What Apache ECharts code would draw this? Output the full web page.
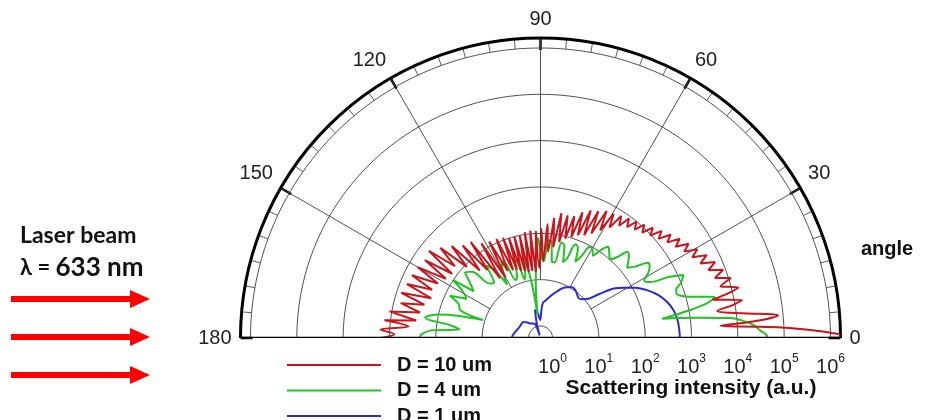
<!DOCTYPE html>
<html><head><meta charset="utf-8">
<script src="https://cdn.jsdelivr.net/npm/echarts@6/dist/echarts.min.js"></script>
<style>html,body{margin:0;padding:0;background:#fff}#chart{width:926px;height:420px}</style>
</head><body><div id="chart"></div>
<script>
// ---- data (radius values are log10 of scattering intensity, angles in degrees) ----
const angleTicks = [0, 30, 60, 90, 120, 150, 180];
const decadeExps = [0, 1, 2, 3, 4, 5, 6];
const radiusMin = -0.259;
const radiusMax = 6.216;
const seriesNames = ['D = 10 um', 'D = 4 um', 'D = 1 um'];

const redAngle = [0,0.5,1,1.5,2,2.5,3,3.8,4.6,5.5,6.3,7.5,8.7,9.7,10.7,11.6,12.5,13.4,14.3,15.2,16,17.5,19,20.5,22,23.5,25,26.5,28,29.5,31,32.5,34,35.5,37,38.5,40,41.5,43,44.5,46,47.5,49,50.5,52,53.5,55,56.5,58,59.5,61,62.5,64,65.5,67,68.5,70,71.5,73,74.5,76,77.5,79,80.5,82,83.5,85,86.5,88,89.5,91,92.5,94,95.5,97,98.5,100,101.5,103,104.5,106,107.5,109,110.5,112,114,116,118,120,122,124,126,128,130,132,134,136,138,140,142,144,146,148,150,152,154,156,158,160,162,164,166,168,170,172,173.5,175,177,178.5,180];
const redLogI = [6.20,6.22,6.02,5.70,5.35,4.95,4.40,3.63,4.50,4.89,4.50,3.90,3.60,3.95,4.17,3.85,3.55,3.90,4.15,3.95,3.78,4.05,3.72,3.95,3.65,3.85,3.55,3.75,3.45,3.63,3.36,3.53,3.26,3.43,3.17,3.33,3.07,3.23,2.98,3.14,2.90,3.06,2.84,3.00,2.78,2.95,2.70,2.90,2.55,2.85,2.40,2.83,2.25,2.75,2.15,2.70,2.10,2.60,2.02,2.47,1.95,2.45,1.85,2.47,1.72,2.35,1.60,2.20,1.40,2.10,1.25,2.05,1.17,2.07,1.20,2.05,1.19,2.00,1.22,2.00,1.25,2.00,1.30,2.05,1.32,2.08,1.35,2.10,1.25,2.15,1.30,2.30,1.60,2.35,1.70,2.50,1.95,2.65,2.15,2.80,2.10,2.75,2.15,2.80,2.25,2.83,2.30,2.85,2.25,2.90,2.35,2.85,2.40,3.05,2.45,3.13,2.60,3.20,2.90,3.20];

const greenAngle = [0,1,2,3,4,5,6,7.5,9,10.6,12,13.2,14.5,16,18,19.6,21.5,23.8,25.5,27,29,31,33,35,37,39,41,43,44.8,46.5,48.5,51,53.5,55.5,57.5,59.5,61.5,63.5,65.5,67.5,69.5,71.5,73.5,75.5,77.5,79.5,81.5,83.5,85.5,87.5,89.5,91.5,93,95,97,99,101,103,105,107,109,111,113,115,117,119.6,122,124,127,130,133,136,139,142,145,146.5,149,152,155,157.5,160.8,162.6,165,167,170,172,174,176,178,180];
const greenLogI = [4.65,4.60,4.48,4.40,4.28,4.10,3.86,3.10,2.40,3.03,3.45,3.61,3.30,3.00,2.83,2.85,3.00,3.11,2.80,2.40,2.30,2.45,2.55,2.57,2.30,2.15,2.25,2.35,2.38,2.15,2.00,2.10,2.19,2.05,1.85,1.95,1.98,1.70,1.55,1.85,1.90,1.55,1.45,1.80,1.85,1.40,1.40,1.85,1.85,1.40,1.50,1.90,1.60,0.90,0.25,0.90,1.50,1.20,1.05,1.45,1.55,1.15,1.10,1.50,1.60,1.38,1.10,1.50,1.70,1.30,1.35,1.80,1.90,1.67,1.50,2.01,1.70,1.55,1.90,1.65,1.58,1.04,1.60,2.00,2.27,1.70,1.50,2.10,2.30,2.35];

const blueAngle = [0,4,8,12,16,20,24,28,31,34,37,40,43,46,50,54,58,62,66,70,74,78,82,86,88,91,94,98,101,104,107,110,114,120,126,132,138,146,156,166,174,180];
const blueLogI = [2.75,2.74,2.72,2.67,2.58,2.45,2.27,2.05,1.85,1.65,1.30,1.05,0.97,0.93,0.97,1.02,1.03,0.98,0.92,0.82,0.73,0.64,0.56,0.50,0.35,0.13,0.20,0.33,0.36,0.10,-0.20,0.05,0.08,0.10,0.13,0.20,0.25,0.25,0.26,0.30,0.34,0.36];

const seriesColors = ['#c8161d', '#22c322', '#2a2ad8'];

// ---- build ----
const zip = (r, a) => r.map((v, i) => [v, a[i]]);
const circleAngles = [];
for (let a = 0; a <= 180; a += 1) circleAngles.push(a);

const series = [];
decadeExps.forEach(k => {
  series.push({
    type: 'line', coordinateSystem: 'polar', silent: true, clip: false, z: 1,
    data: circleAngles.map(a => [k, a]), symbol: 'none', showSymbol: false,
    lineStyle: { color: '#3c3c3c', width: 0.9 }, animation: false
  });
});
angleTicks.filter(a => a > 0 && a < 180).forEach(a => {
  series.push({
    type: 'line', coordinateSystem: 'polar', silent: true, clip: false, z: 1,
    data: [[1, a], [radiusMax, a]], symbol: 'none', showSymbol: false,
    lineStyle: { color: '#3c3c3c', width: 0.9 }, animation: false
  });
});
const curves = [[redLogI, redAngle], [greenLogI, greenAngle], [blueLogI, blueAngle]];
curves.forEach((c, i) => {
  series.push({
    name: seriesNames[i], type: 'line', coordinateSystem: 'polar', clip: false, z: 5 - i,
    data: zip(c[0], c[1]), symbol: 'none', showSymbol: false, smooth: 0.35,
    color: seriesColors[i], lineStyle: { color: seriesColors[i], width: 2 }, animation: false
  });
});
series.push({
  type: 'line', coordinateSystem: 'polar', silent: true, clip: false, z: 10,
  data: [[radiusMax, 0], [radiusMax, 180]], symbol: 'none', showSymbol: false,
  lineStyle: { color: '#000', width: 2.6 }, animation: false
});

const arrowYs = [299, 337, 375];
const graphics = [];
arrowYs.forEach(y => {
  graphics.push({ type: 'rect', shape: { x: 11, y: y - 3, width: 121, height: 6 }, style: { fill: '#ff0000' } });
  graphics.push({ type: 'polygon', shape: { points: [[130, y - 9], [150, y], [130, y + 9]] }, style: { fill: '#ff0000' } });
});
graphics.push({ type: 'text', left: 20, top: 224, style: { text: 'Laser beam', font: 'bold 23px Lato, "Open Sans", sans-serif', fill: '#111' } });
graphics.push({ type: 'text', left: 20, top: 255, style: {
  text: '{a|λ = }{b|633 nm}',
  rich: { a: { font: 'bold 22px Lato, sans-serif', fill: '#111' }, b: { font: 'bold 26px Lato, sans-serif', fill: '#111' } }
} });
graphics.push({ type: 'text', left: 861, top: 239, style: { text: 'angle', font: 'bold 20px "Liberation Sans", Arial, sans-serif', fill: '#111' } });
graphics.push({ type: 'text', x: 691, y: 388, style: { text: 'Scattering intensity (a.u.)', align: 'center', verticalAlign: 'middle', font: 'bold 21px "Liberation Sans", Arial, sans-serif', fill: '#111' } });

const option = {
  backgroundColor: '#fff',
  animation: false,
  polar: { center: [540.5, 338], radius: 300 },
  angleAxis: {
    type: 'value', min: 0, max: 180, interval: 30, startAngle: 0, endAngle: 180, clockwise: false,
    axisLine: { lineStyle: { color: '#000', width: 3 } },
    axisTick: { show: true, inside: true, length: 12, lineStyle: { color: '#000', width: 2.5 } },
    minorTick: { show: true, splitNumber: 6, length: 10, lineStyle: { color: '#333', width: 0.8 } },
    axisLabel: { margin: 9, fontSize: 20, color: '#222', fontFamily: '"Liberation Sans", Arial, sans-serif' },
    splitLine: { show: false }, minorSplitLine: { show: false }
  },
  radiusAxis: {
    type: 'value', min: radiusMin, max: radiusMax, splitNumber: 6,
    axisLine: { show: false }, axisTick: { show: false }, splitLine: { show: false },
    axisLabel: {
      show: true, margin: -15, verticalAlign: 'top', showMinLabel: false, showMaxLabel: false,
      formatter: v => (Math.abs(v - Math.round(v)) < 1e-6 ? '{b|10}{s|' + Math.round(v) + '}' : ''),
      rich: {
        b: { fontSize: 20, color: '#222', fontFamily: '"Liberation Sans", Arial, sans-serif', lineHeight: 24, verticalAlign: 'bottom' },
        s: { fontSize: 12, color: '#222', fontFamily: '"Liberation Sans", Arial, sans-serif', lineHeight: 12, verticalAlign: 'top' }
      }
    }
  },
  legend: {
    orient: 'vertical', left: 287, top: 355, height: 150, padding: 0, itemWidth: 94, itemHeight: 2, itemGap: 5.5, icon: 'rect',
    data: seriesNames,
    textStyle: { fontSize: 20, fontWeight: 'bold', color: '#111', fontFamily: '"Liberation Sans", Arial, sans-serif', padding: [0, 0, 0, 11], lineHeight: 20 }
  },
  graphic: graphics,
  series: series
};
const chart = echarts.init(document.getElementById('chart'), null, { renderer: 'canvas' });
chart.setOption(option);
</script></body></html>
